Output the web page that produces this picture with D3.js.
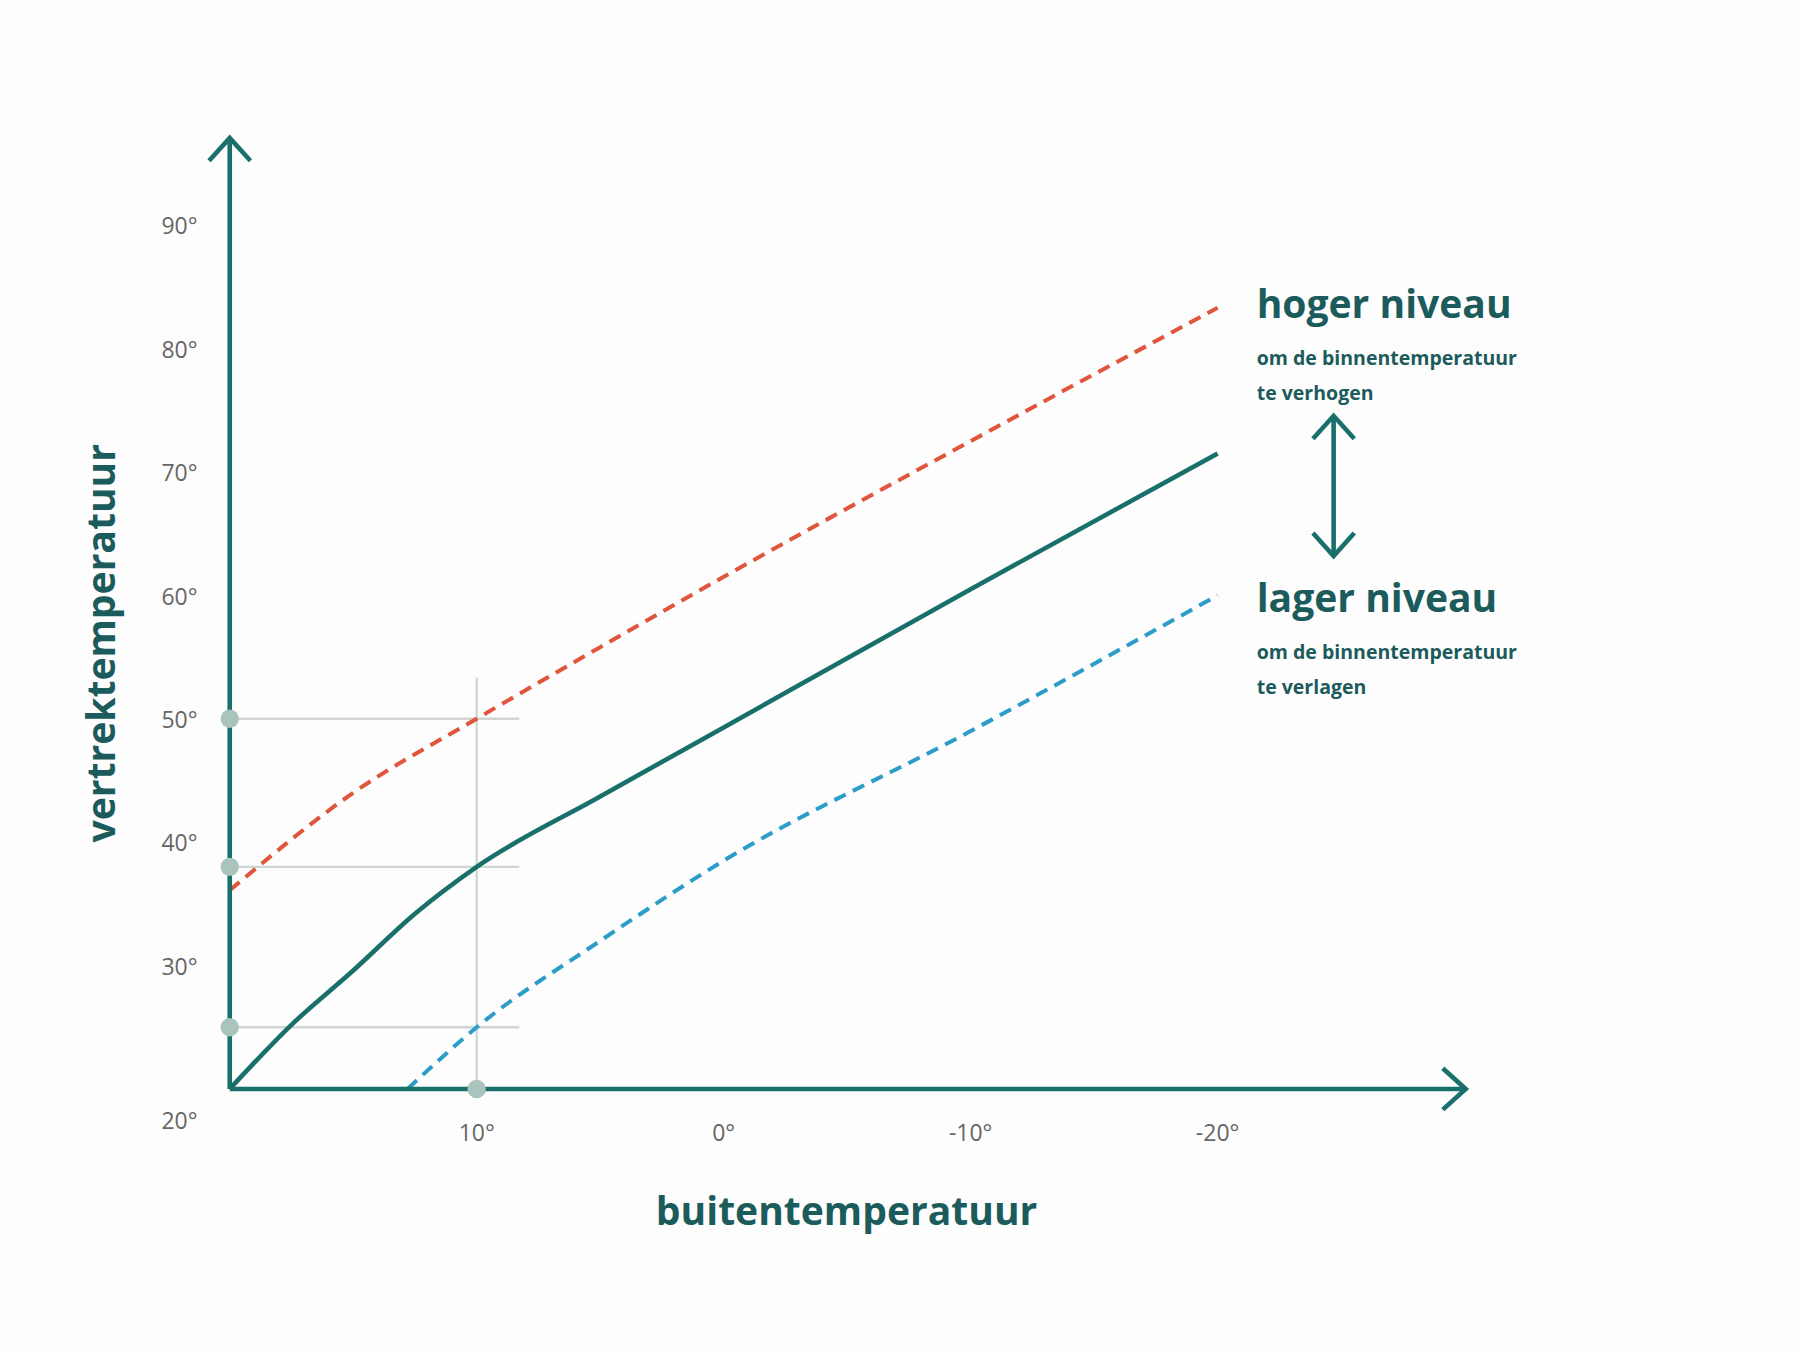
<!DOCTYPE html>
<html><head><meta charset="utf-8">
<script src="https://cdn.jsdelivr.net/npm/d3@7"></script>
<style>body{margin:0;background:#fdfdfd}</style></head>
<body><svg id="c" width="1800" height="1350"></svg>
<script>
const xTicks = [20, 10, 0, -10, -20];
const yTicks = [20, 30, 40, 50, 60, 70, 80, 90];
const solidT = [20, 17.5, 15, 12.5, 10, 5, 0, -10, -20];
const solidV = [20, 25.2, 29.6, 34.2, 38, 43.7, 49.3, 60.5, 71.5];
const redT = [20, 15, 10, 5, 0, -10, -20];
const redV = [36.1, 44, 50, 55.8, 61.5, 72.5, 83.3];
const blueT = [12.8, 10, 5, 0, -10, -20];
const blueV = [20, 25, 32, 38.5, 49, 60];
const guideV = [50, 38, 25];

const s = 1800/1567;
const teal = "#19706b", dark = "#1c5b5b", grid = "#cfd6d4", dot = "#a9c4bd";
const svg = d3.select("#c");
const g = svg.append("g").attr("transform", `scale(${s})`);
const x = d3.scaleLinear().domain([20, -20]).range([200, 1060]);
const y = d3.scaleLinear().domain([20, 90]).range([948, 196]);
const font = "'Open Sans', sans-serif";

// guides
g.append("line").attr("x1", x(10)).attr("x2", x(10)).attr("y1", 590).attr("y2", y(20))
  .attr("stroke", grid).attr("stroke-width", 2);
guideV.forEach(v => {
  g.append("line").attr("x1", x(20)).attr("x2", 452).attr("y1", y(v)).attr("y2", y(v))
    .attr("stroke", grid).attr("stroke-width", 2);
});

const line = d3.line().x(d => x(d[0])).y(d => y(d[1])).curve(d3.curveMonotoneX);
g.append("path").datum(redT.map((t,i)=>[t,redV[i]])).attr("d", line).attr("fill","none")
  .attr("stroke","#e0553b").attr("stroke-width",3.5).attr("stroke-dasharray","11,7");
g.append("path").datum(blueT.map((t,i)=>[t,blueV[i]])).attr("d", line).attr("fill","none")
  .attr("stroke","#2b9dc8").attr("stroke-width",3.5).attr("stroke-dasharray","11,7");
g.append("path").datum(solidT.map((t,i)=>[t,solidV[i]])).attr("d", line).attr("fill","none")
  .attr("stroke",teal).attr("stroke-width",4);

// axes
g.append("line").attr("x1",200).attr("x2",200).attr("y1",y(20)).attr("y2",120).attr("stroke",teal).attr("stroke-width",4);
g.append("path").attr("d","M182,140 L200,120 L218,140").attr("fill","none").attr("stroke",teal).attr("stroke-width",4);
g.append("line").attr("x1",200).attr("x2",1276).attr("y1",y(20)).attr("y2",y(20)).attr("stroke",teal).attr("stroke-width",4);
g.append("path").attr("d","M1256,930 L1276,948 L1256,966").attr("fill","none").attr("stroke",teal).attr("stroke-width",4);

// dots
guideV.forEach(v => g.append("circle").attr("cx",200).attr("cy",y(v)).attr("r",8).attr("fill",dot));
g.append("circle").attr("cx",x(10)).attr("cy",y(20)).attr("r",8).attr("fill",dot);

// tick labels
yTicks.forEach(v => g.append("text").attr("x",172).attr("y", v===20 ? 983 : y(v)+8)
  .attr("text-anchor","end").attr("font-family",font).attr("font-size",20).attr("fill","#666")
  .text(v+"°"));
xTicks.forEach(v => { if (v===20) return; g.append("text").attr("x",x(v)).attr("y",993)
  .attr("text-anchor","middle").attr("font-family",font).attr("font-size",20).attr("fill","#666")
  .text(v+"°"); });

// titles
g.append("text").attr("transform","translate(100,560) rotate(-90)").attr("text-anchor","middle")
  .attr("font-family",font).attr("font-weight","bold").attr("font-size",34).attr("fill",dark).text("vertrektemperatuur");
g.append("text").attr("x",737).attr("y",1066).attr("text-anchor","middle")
  .attr("font-family",font).attr("font-weight","bold").attr("font-size",34).attr("fill",dark).text("buitentemperatuur");

// annotations
function ann(y0, title, sub1, sub2) {
  g.append("text").attr("x",1094).attr("y",y0).attr("font-family",font).attr("font-weight","bold")
    .attr("font-size",34).attr("fill",dark).text(title);
  g.append("text").attr("x",1094).attr("y",y0+41).attr("font-family",font).attr("font-weight","bold")
    .attr("font-size",17).attr("fill",dark).text(sub1);
  g.append("text").attr("x",1094).attr("y",y0+71).attr("font-family",font).attr("font-weight","bold")
    .attr("font-size",17).attr("fill",dark).text(sub2);
}
ann(277, "hoger niveau", "om de binnentemperatuur", "te verhogen");
ann(533, "lager niveau", "om de binnentemperatuur", "te verlagen");
g.append("line").attr("x1",1161).attr("x2",1161).attr("y1",362).attr("y2",484).attr("stroke",teal).attr("stroke-width",4);
g.append("path").attr("d","M1143,382 L1161,362 L1179,382 M1143,464 L1161,484 L1179,464").attr("fill","none").attr("stroke",teal).attr("stroke-width",4);
</script></body></html>
